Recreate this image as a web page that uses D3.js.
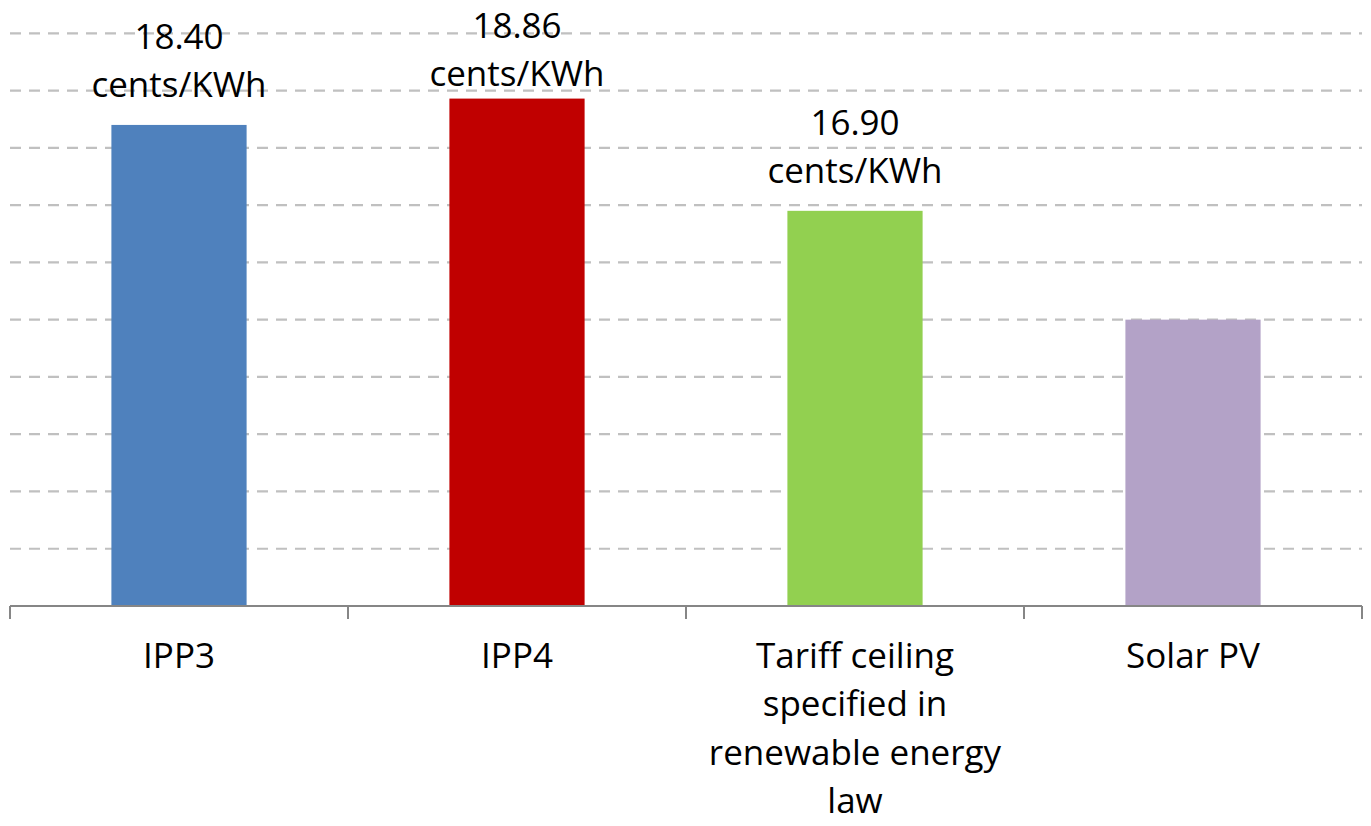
<!DOCTYPE html>
<html>
<head>
<meta charset="utf-8">
<script src="https://cdn.jsdelivr.net/npm/d3@7/dist/d3.min.js"></script>
<style>
  html, body { margin: 0; padding: 0; background: #ffffff; }
  svg { display: block; }
  text { font-family: "Open Sans", "Noto Sans", sans-serif; fill: #000; }
</style>
</head>
<body>
<svg id="chart" width="1371" height="826"></svg>
<script>
// ---- data ----
const categories = [
  ["IPP3"],
  ["IPP4"],
  ["Tariff ceiling", "specified in", "renewable energy", "law"],
  ["Solar PV"]
];
const values = [18.40, 18.86, 16.90, 15.00];
const valueLabels = ["18.40", "18.86", "16.90", null];
const unitLabel = "cents/KWh";
const colors = ["#4F81BD", "#C00000", "#92D050", "#B3A2C7"];
const yDomain = [10, 20];
const yTicks = [11, 12, 13, 14, 15, 16, 17, 18, 19, 20];

// ---- layout ----
const plotL = 10, plotR = 1362, plotT = 33.3, plotB = 606;
const fontSize = 35;
const lineH = 48.3;

const svg = d3.select("#chart");
const idx = d3.range(categories.length);

const x = d3.scaleBand().domain(idx).range([plotL, plotR]).paddingInner(0.6).paddingOuter(0.3);
const edge = d3.scaleLinear().domain([0, categories.length]).range([plotL, plotR]);
const y = d3.scaleLinear().domain(yDomain).range([plotB, plotT]);

// gridlines
svg.append("g").selectAll("line").data(yTicks).join("line")
  .attr("x1", plotL).attr("x2", plotR)
  .attr("y1", d => y(d)).attr("y2", d => y(d))
  .attr("stroke", "#c0c0c0").attr("stroke-width", 2.2)
  .attr("stroke-dasharray", "11,8");

// bars
svg.append("g").selectAll("rect").data(idx).join("rect")
  .attr("x", i => x(i)).attr("width", x.bandwidth())
  .attr("y", i => y(values[i])).attr("height", i => y(yDomain[0]) - y(values[i]))
  .attr("fill", i => colors[i]);

// axis
const ax = svg.append("g");
ax.append("line").attr("x1", plotL).attr("x2", plotR).attr("y1", plotB).attr("y2", plotB)
  .attr("stroke", "#868686").attr("stroke-width", 2);
ax.selectAll("line.tick").data(d3.range(categories.length + 1)).join("line")
  .attr("class", "tick")
  .attr("x1", d => edge(d)).attr("x2", d => edge(d))
  .attr("y1", plotB).attr("y2", plotB + 13)
  .attr("stroke", "#868686").attr("stroke-width", 2);

// category labels
const cl = svg.append("g");
idx.forEach(i => {
  const cx = x(i) + x.bandwidth() / 2;
  const t = cl.append("text").attr("text-anchor", "middle").attr("font-size", fontSize);
  categories[i].forEach((ln, k) => {
    t.append("tspan").attr("x", cx).attr("y", 668 + k * lineH).text(ln);
  });
});

// value labels
const vl = svg.append("g");
idx.forEach(i => {
  if (!valueLabels[i]) return;
  const cx = x(i) + x.bandwidth() / 2;
  let b1 = y(values[i]) - 28 - lineH;
  if (b1 < 37.5) b1 = 37.5;
  const t = vl.append("text").attr("text-anchor", "middle").attr("font-size", fontSize);
  t.append("tspan").attr("x", cx).attr("y", b1).text(valueLabels[i]);
  t.append("tspan").attr("x", cx).attr("y", b1 + lineH).text(unitLabel);
});
</script>
</body>
</html>
